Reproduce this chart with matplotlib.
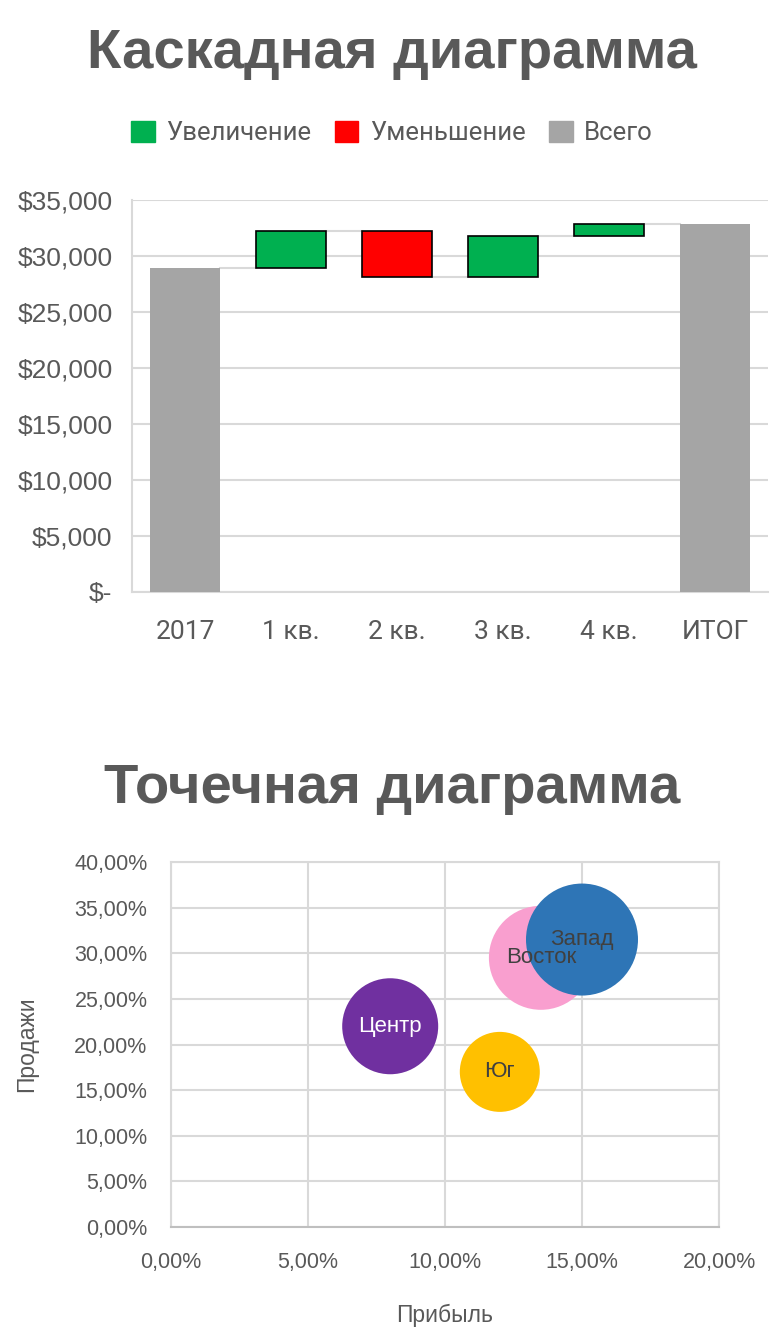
import matplotlib
matplotlib.use("Agg")
import matplotlib.pyplot as plt
from matplotlib.patches import Patch
from matplotlib.ticker import FuncFormatter
import numpy as np

# ------------------------
# data
# ------------------------
wf_labels = ['2017', '1 кв.', '2 кв.', '3 кв.', '4 кв.', 'ИТОГ']
wf_start = 28900
wf_changes = [3300, -4100, 3700, 1100]

bub_names = ['Центр', 'Юг', 'Восток', 'Запад']
bub_profit = [8.0, 12.0, 13.5, 15.0]     # %
bub_sales = [22.0, 17.0, 29.5, 31.5]     # %
bub_value = [1.2, 1.0, 1.3, 1.4]         # bubble size (relative diameter)

GREEN = '#00B050'
RED = '#FF0000'
GRAY = '#A5A5A5'
TXT = '#595959'
GRID = '#D9D9D9'

SANS = ['Liberation Sans', 'DejaVu Sans']
WIDE = ['Roboto', 'DejaVu Sans']

fig = plt.figure(figsize=(7.84, 13.37), dpi=100)

# ------------------------
# waterfall
# ------------------------
ax1 = fig.add_axes([132/784, 1-592/1337, (768-132)/784, (592-200)/1337])
x = np.arange(len(wf_labels))
w = 0.66
totals = np.concatenate([[wf_start], wf_start + np.cumsum(wf_changes)])
final = totals[-1]

ax1.bar(x[0], wf_start, w, color=GRAY, zorder=3)
ax1.bar(x[-1], final, w, color=GRAY, zorder=3)
for i, d in enumerate(wf_changes):
    base = totals[i] if d > 0 else totals[i+1]
    ax1.bar(x[i+1], abs(d), w, bottom=base, color=GREEN if d > 0 else RED,
            edgecolor='black', linewidth=1.2, zorder=3)

# соединительные линии
for i in range(len(wf_labels) - 1):
    ax1.plot([x[i] + w/2, x[i+1] - w/2], [totals[i], totals[i]],
             color=GRID, lw=1.5, zorder=2)

ax1.set_xlim(-0.5, len(wf_labels) - 0.5)
ax1.set_ylim(0, 35000)
ax1.set_yticks(np.arange(0, 35001, 5000))
ax1.yaxis.set_major_formatter(FuncFormatter(lambda v, p: '$-' if v == 0 else f'${v:,.0f}'))
ax1.grid(axis='y', color=GRID, lw=1.5, zorder=0)
ax1.set_xticks(x)
ax1.set_xticklabels(wf_labels, family=WIDE, fontsize=19, color=TXT)
for t in ax1.get_yticklabels():
    t.set_family(SANS)
    t.set_fontsize(19)
    t.set_color(TXT)
ax1.tick_params(length=0)
ax1.tick_params(axis='y', pad=14)
ax1.tick_params(axis='x', pad=20)
for s in ['top', 'right']:
    ax1.spines[s].set_visible(False)
for s in ['left', 'bottom']:
    ax1.spines[s].set_color(GRID)
    ax1.spines[s].set_linewidth(1.5)

fig.text(0.5, 1-68/1337, 'Каскадная диаграмма', ha='center', va='baseline',
         fontsize=40.5, fontweight='bold', color=TXT, family=SANS)

handles = [Patch(color=GREEN, label='Увеличение'),
           Patch(color=RED, label='Уменьшение'),
           Patch(color=GRAY, label='Всего')]
leg = fig.legend(handles=handles, loc='center', bbox_to_anchor=(392/784, 1-133/1337), ncol=3,
                 frameon=False, prop={'family': WIDE, 'size': 18.5},
                 handlelength=0.93, handleheight=0.93, handletextpad=0.45, columnspacing=0.9)
for t in leg.get_texts():
    t.set_color(TXT)

# ------------------------
# bubble chart
# ------------------------
ax2 = fig.add_axes([171/784, 1-1227/1337, (719-171)/784, (1227-862)/1337])
bub_colors = ['#7030A0', '#FFC000', '#F99FCF', '#2E75B6']
sizes = [(v * 80 * 0.72) ** 2 for v in bub_value]
for xi, yi, s, c in zip(bub_profit, bub_sales, sizes, bub_colors):
    ax2.scatter(xi, yi, s=s, color=c, edgecolors='none', zorder=3)
for name, xi, yi, c in zip(bub_names, bub_profit, bub_sales, bub_colors):
    ax2.text(xi, yi, name, ha='center', va='center', fontsize=16, family=SANS,
             color='white' if name == 'Центр' else '#404040', zorder=4)

ax2.set_xlim(0, 20)
ax2.set_ylim(0, 40)
ax2.set_xticks(np.arange(0, 20.1, 5))
ax2.set_yticks(np.arange(0, 40.1, 5))
pct = FuncFormatter(lambda v, p: f'{v:.2f}%'.replace('.', ','))
ax2.xaxis.set_major_formatter(pct)
ax2.yaxis.set_major_formatter(pct)
for t in ax2.get_xticklabels() + ax2.get_yticklabels():
    t.set_family(SANS)
    t.set_fontsize(15.5)
    t.set_color(TXT)
ax2.tick_params(length=0)
ax2.tick_params(axis='y', pad=17)
ax2.tick_params(axis='x', pad=18)
ax2.grid(color=GRID, lw=1.5, zorder=0)
for s in ax2.spines.values():
    s.set_color(GRID)
    s.set_linewidth(1.5)
ax2.spines['bottom'].set_color('#BFBFBF')
ax2.set_xlabel('Прибыль', family=SANS, fontsize=16.5, color=TXT, labelpad=22)
ax2.set_ylabel('Продажи', family=SANS, fontsize=16.5, color=TXT, labelpad=26)

fig.text(0.5, 1-803/1337, 'Точечная диаграмма', ha='center', va='baseline',
         fontsize=40.5, fontweight='bold', color=TXT, family=SANS)

fig.savefig('out.png', dpi=100, facecolor='white')
